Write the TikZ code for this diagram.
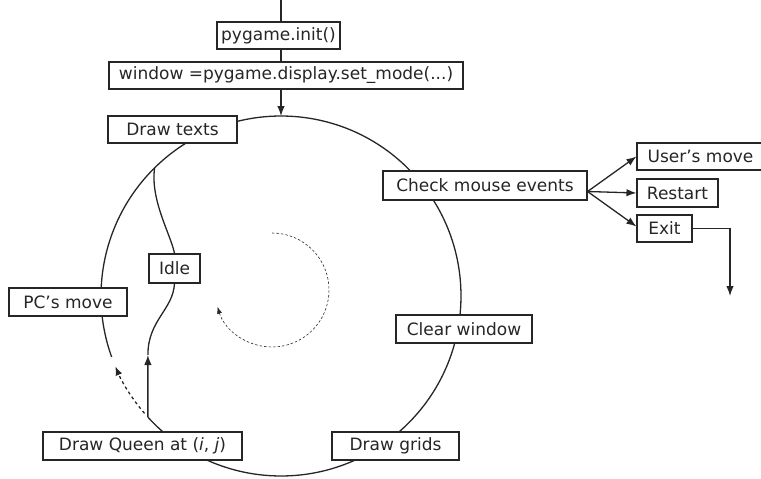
\documentclass[tikz,border=0pt]{standalone}
\usepackage{fontspec}
\setmainfont{DejaVu Sans}
\usetikzlibrary{arrows.meta,calc}
\tikzset{
  box/.style={draw,fill=white,line width=1.1pt,draw=black!85,inner xsep=2pt,inner ysep=0pt,
    font=\fontsize{17}{20}\selectfont,text=black!85,anchor=center},
  con/.style={line width=1.3pt,draw=black!85},
  arr/.style={con,-{Latex[length=10pt,width=7.5pt]}},
}
\begin{document}
\begin{tikzpicture}[x=1pt,y=1pt]
\useasboundingbox (0,0) rectangle (761,-479);
\coordinate (O) at (281,-296);
% big cycle
\draw[con] ($(O)+(222.3:180)$) coordinate (q0) arc[start angle=222.3, end angle=559.8, radius=180];
\draw[con,dash pattern=on 3pt off 3pt,line width=1.3pt,-{Latex[length=9pt,width=7pt]}]
  ($(O)+(220.7:180)$) arc[start angle=220.7, end angle=203, radius=180];
\coordinate (ctop) at (281,-116);
\coordinate (idl0) at ($(O)+(134.6:180)$);
\coordinate (q1) at (147.9,-355);
% inner dashed rotation arrow
\draw[line width=0.6pt,draw=black!85,dash pattern=on 2.5pt off 2pt,-{Latex[length=7pt,width=5pt]}]
  (272,-233) arc[start angle=90, end angle=-163, radius=57];
% boxes
\node[box,minimum width=123pt,minimum height=27pt] (init) at (278.5,-35.5) {pygame.init()};
\node[box,minimum width=354pt,minimum height=27pt] (win) at (286,-75.5) {window =pygame.display.set\_mode(...)};
\node[box,minimum width=129pt,minimum height=27pt] (dt) at (172.5,-129.5) {Draw texts};
\node[box,minimum width=204pt,minimum height=29pt] (cme) at (485,-185.5) {Check mouse events};
\node[box,minimum width=127pt,minimum height=27pt] (um) at (700.5,-156.5) {User’s move};
\node[box,minimum width=81pt,minimum height=28pt] (rs) at (677.5,-193) {Restart};
\node[box,minimum width=55pt,minimum height=27pt] (ex) at (664.5,-228.5) {Exit};
\node[box,minimum width=51pt,minimum height=29pt] (idle) at (174.5,-268.5) {Idle};
\node[box,minimum width=118pt,minimum height=28pt] (pc) at (68,-302) {PC’s move};
\node[box,minimum width=199pt,minimum height=28pt] (dq) at (142.5,-446) {Draw Queen at (\textit{i}, \textit{j})};
\node[box,minimum width=136pt,minimum height=28pt] (cw) at (464,-329) {Clear window};
\node[box,minimum width=127pt,minimum height=28pt] (dg) at (395.5,-446) {Draw grids};
% top chain
\coordinate (top) at (281,0);
\draw[con] (top) -- (top |- init.north);
\draw[con] (top |- init.south) -- (top |- win.north);
\draw[arr] (top |- win.south) -- (ctop);
% idle branch
\draw[con] (idl0) .. controls (150,-200) and (171,-235) .. (idle.north);
\draw[con] (idle.south) .. controls (173,-310) and (147.9,-320) .. (q1);
\draw[arr] (q0) -- (q1);
% mouse events
\coordinate (cmeo) at ([yshift=-6pt]cme.east);
\draw[arr] (cmeo) -- (um.west);
\draw[arr] (cmeo) -- (rs.west);
\draw[arr] (cmeo) -- ([yshift=2pt]ex.west);
\coordinate (exend) at (730,-296);
\draw[arr] (ex.east) -- (exend |- ex.east) -- (exend);
\end{tikzpicture}
\end{document}
